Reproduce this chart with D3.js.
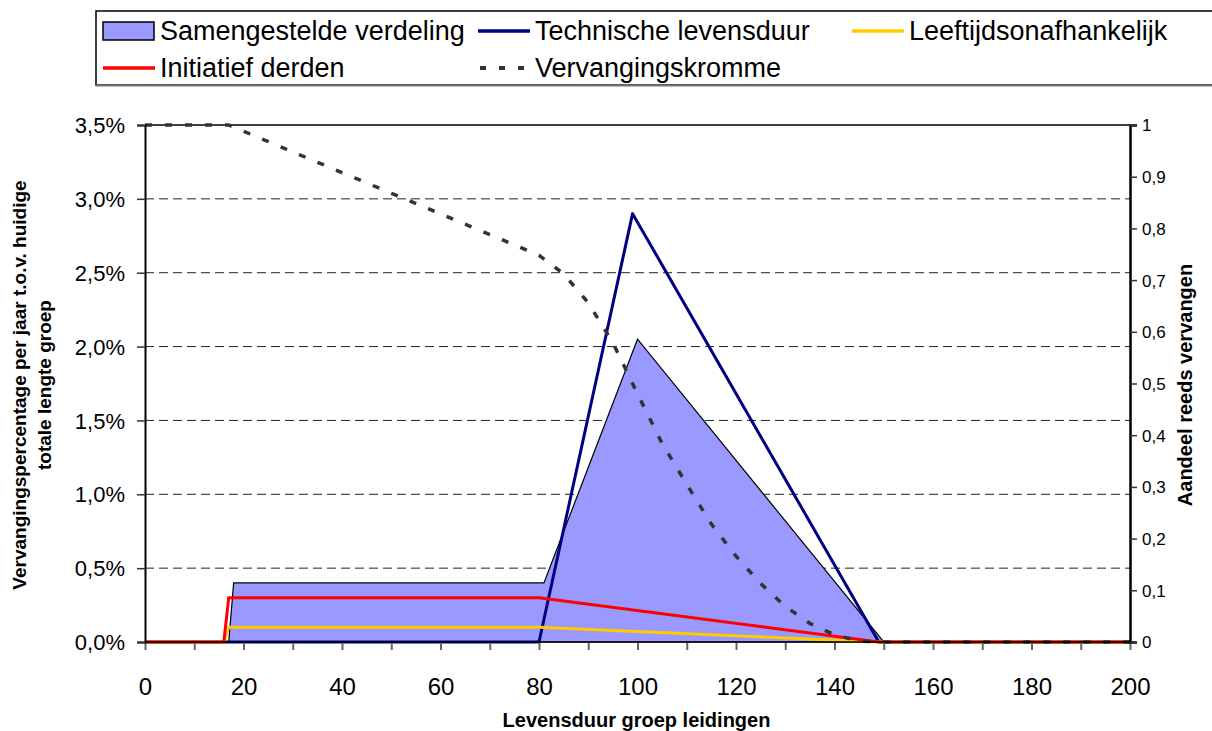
<!DOCTYPE html>
<html>
<head>
<meta charset="utf-8">
<script src="https://cdn.jsdelivr.net/npm/d3@7"></script>
<style>
  body { margin: 0; background: #fff; }
  svg { display: block; }
  text { font-family: "Liberation Sans", Arial, sans-serif; fill: #000; }
</style>
</head>
<body>
<svg id="chart" width="1212" height="731"></svg>
<script>
// Replacement rate per year (fraction of current total length) by pipe age
const compositeAge  = [0, 17, 18, 81, 100, 150, 200];
const compositeRate = [0, 0, 0.004, 0.004, 0.0205, 0, 0];

const technicalAge  = [0, 80, 99, 149, 200];
const technicalRate = [0, 0, 0.029, 0, 0];

const independentAge  = [0, 16, 17, 80, 149, 200];
const independentRate = [0, 0, 0.001, 0.001, 0, 0];

const thirdPartyAge  = [0, 16, 17, 80, 149, 200];
const thirdPartyRate = [0, 0, 0.003, 0.003, 0, 0];

// Replacement curve (right axis)
const curveAge   = [0, 17, 20, 30, 40, 50, 60, 70, 80, 85, 90, 95, 100, 105, 110, 115, 120, 125, 130, 135, 140, 145, 150, 200];
const curveShare = [1, 1, 0.988, 0.948, 0.908, 0.868, 0.828, 0.788, 0.748, 0.712, 0.656, 0.579, 0.480, 0.384, 0.305, 0.228, 0.166, 0.113, 0.069, 0.036, 0.014, 0.002, 0, 0];

const xTickValues     = [0, 20, 40, 60, 80, 100, 120, 140, 160, 180, 200];
const xMinorValues    = [0, 10, 20, 30, 40, 50, 60, 70, 80, 90, 100, 110, 120, 130, 140, 150, 160, 170, 180, 190, 200];
const leftTickValues  = [0, 0.005, 0.01, 0.015, 0.02, 0.025, 0.03, 0.035];
const rightTickValues = [0, 0.1, 0.2, 0.3, 0.4, 0.5, 0.6, 0.7, 0.8, 0.9, 1];

const legendItems = [
  { label: "Samengestelde verdeling", kind: "area", col: 0, row: 0 },
  { label: "Technische levensduur", kind: "line", color: "#000080", col: 1, row: 0 },
  { label: "Leeftijdsonafhankelijk", kind: "line", color: "#FFCC00", col: 2, row: 0 },
  { label: "Initiatief derden", kind: "line", color: "#FF0000", col: 0, row: 1 },
  { label: "Vervangingskromme", kind: "dash", color: "#333333", col: 1, row: 1 }
];

const nl = d3.formatLocale({ decimal: ",", thousands: ".", grouping: [3], currency: ["€", ""] });
const fmtPct = nl.format(".1%");
const fmtShare = nl.format(".1~f");

const svg = d3.select("#chart");
const plotLeft = 145, plotRight = 1130, plotTop = 125, plotBottom = 642;

const x = d3.scaleLinear().domain([0, 200]).range([plotLeft, plotRight]);
const yL = d3.scaleLinear().domain([0, 0.035]).range([plotBottom, plotTop]);
const yR = d3.scaleLinear().domain([0, 1]).range([plotBottom, plotTop]);

// gridlines
svg.append("g").selectAll("line")
  .data(leftTickValues.filter(v => v > 0 && v < 0.035))
  .join("line")
  .attr("x1", plotLeft).attr("x2", plotRight)
  .attr("y1", d => yL(d)).attr("y2", d => yL(d))
  .attr("stroke", "#222").attr("stroke-width", 1)
  .attr("stroke-dasharray", "9,5");

// top border of plot area
svg.append("line")
  .attr("x1", plotLeft).attr("x2", plotRight)
  .attr("y1", yL(0.035)).attr("y2", yL(0.035))
  .attr("stroke", "#000").attr("stroke-width", 1.5);

const zip = (a, b) => a.map((v, i) => [v, b[i]]);

// composite distribution (area)
const area = d3.area().x(d => x(d[0])).y0(yL(0)).y1(d => yL(d[1]));
svg.append("path")
  .datum(zip(compositeAge, compositeRate))
  .attr("d", area)
  .attr("fill", "#9999FF")
  .attr("stroke", "#000").attr("stroke-width", 1.2);

const lineL = d3.line().x(d => x(d[0])).y(d => yL(d[1]));

svg.append("path")
  .datum(zip(technicalAge, technicalRate))
  .attr("d", lineL).attr("fill", "none")
  .attr("stroke", "#000080").attr("stroke-width", 3).attr("stroke-linejoin", "round");

svg.append("path")
  .datum(zip(independentAge, independentRate))
  .attr("d", lineL).attr("fill", "none")
  .attr("stroke", "#FFCC00").attr("stroke-width", 3);

svg.append("path")
  .datum(zip(thirdPartyAge, thirdPartyRate))
  .attr("d", lineL).attr("fill", "none")
  .attr("stroke", "#FF0000").attr("stroke-width", 3);

const lineR = d3.line().x(d => x(d[0])).y(d => yR(d[1]));
svg.append("path")
  .datum(zip(curveAge, curveShare))
  .attr("d", lineR).attr("fill", "none")
  .attr("stroke", "#333333").attr("stroke-width", 3.5)
  .attr("stroke-dasharray", "7,13");

// axes
const xAxisMinor = d3.axisBottom(x).tickValues(xMinorValues).tickSize(8).tickFormat("");
svg.append("g").attr("transform", `translate(0,${plotBottom})`).call(xAxisMinor)
  .call(g => g.selectAll(".tick line").attr("stroke", "#666").attr("stroke-width", 2))
  .call(g => g.select(".domain").remove());

const xAxis = d3.axisBottom(x).tickValues(xTickValues).tickSize(0).tickPadding(36).tickFormat(d3.format("d"));
svg.append("g").attr("transform", `translate(0,${plotBottom})`).call(xAxis)
  .call(g => g.select(".domain").remove())
  .call(g => g.selectAll("text").attr("font-size", 24).attr("font-family", null));

svg.append("line").attr("x1", plotLeft).attr("x2", plotRight).attr("y1", plotBottom).attr("y2", plotBottom)
  .attr("stroke", "#000").attr("stroke-width", 1.5);

const yAxisL = d3.axisLeft(yL).tickValues(leftTickValues).tickSize(8).tickPadding(12).tickFormat(fmtPct);
svg.append("g").attr("transform", `translate(${plotLeft},0)`).call(yAxisL)
  .call(g => g.select(".domain").attr("stroke-width", 2))
  .call(g => g.selectAll(".tick line").attr("stroke", "#333").attr("stroke-width", 1.5))
  .call(g => g.selectAll("text").attr("font-size", 22).attr("font-family", null).attr("dy", "0.35em"));

const yAxisR = d3.axisRight(yR).tickValues(rightTickValues).tickSize(7).tickPadding(5).tickFormat(fmtShare);
svg.append("g").attr("transform", `translate(${plotRight},0)`).call(yAxisR)
  .call(g => g.select(".domain").attr("stroke-width", 2.5))
  .call(g => g.selectAll(".tick line").attr("stroke", "#333").attr("stroke-width", 1.5))
  .call(g => g.selectAll("text").attr("font-size", 17).attr("font-family", null).attr("dy", "0.35em"));

// axis titles
svg.append("text")
  .attr("x", (plotLeft + plotRight) / 2 - 1).attr("y", 727)
  .attr("text-anchor", "middle").attr("font-weight", "bold").attr("font-size", 20)
  .text("Levensduur groep leidingen");

const leftTitle = svg.append("text")
  .attr("transform", `translate(26,385) rotate(-90)`)
  .attr("text-anchor", "middle").attr("font-weight", "bold").attr("font-size", 19);
leftTitle.append("tspan").attr("x", 0).attr("y", 0).text("Vervangingspercentage per jaar t.o.v. huidige");
leftTitle.append("tspan").attr("x", 0).attr("y", 25).text("totale lengte groep");

svg.append("text")
  .attr("transform", `translate(1192,385) rotate(-90)`)
  .attr("text-anchor", "middle").attr("font-weight", "bold").attr("font-size", 20)
  .text("Aandeel reeds vervangen");

// legend
const legend = svg.append("g");
legend.append("rect")
  .attr("x", 96).attr("y", 11).attr("width", 1130).attr("height", 74)
  .attr("fill", "#fff").attr("stroke", "#000").attr("stroke-width", 1.5);
legend.append("line").attr("x1", 96).attr("x2", 1212).attr("y1", 85.5).attr("y2", 85.5)
  .attr("stroke", "#777").attr("stroke-width", 2);

const colX = [103, 478, 852];
const rowY = [31, 68];
const item = legend.selectAll("g.item").data(legendItems).join("g")
  .attr("class", "item")
  .attr("transform", d => `translate(${colX[d.col]},${rowY[d.row]})`);

item.filter(d => d.kind === "area").append("rect")
  .attr("x", 0).attr("y", -9).attr("width", 51).attr("height", 18)
  .attr("fill", "#9999FF").attr("stroke", "#000").attr("stroke-width", 1.5);
item.filter(d => d.kind === "line").append("line")
  .attr("x1", 0).attr("x2", 52).attr("y1", 0).attr("y2", 0)
  .attr("stroke", d => d.color).attr("stroke-width", 3.5);
item.filter(d => d.kind === "dash").append("line")
  .attr("x1", 2).attr("x2", 52).attr("y1", 0).attr("y2", 0)
  .attr("stroke", d => d.color).attr("stroke-width", 4)
  .attr("stroke-dasharray", "6,13");
item.append("text")
  .attr("x", 57).attr("y", 0).attr("dy", "0.35em")
  .attr("font-size", 27)
  .text(d => d.label);
</script>
</body>
</html>
